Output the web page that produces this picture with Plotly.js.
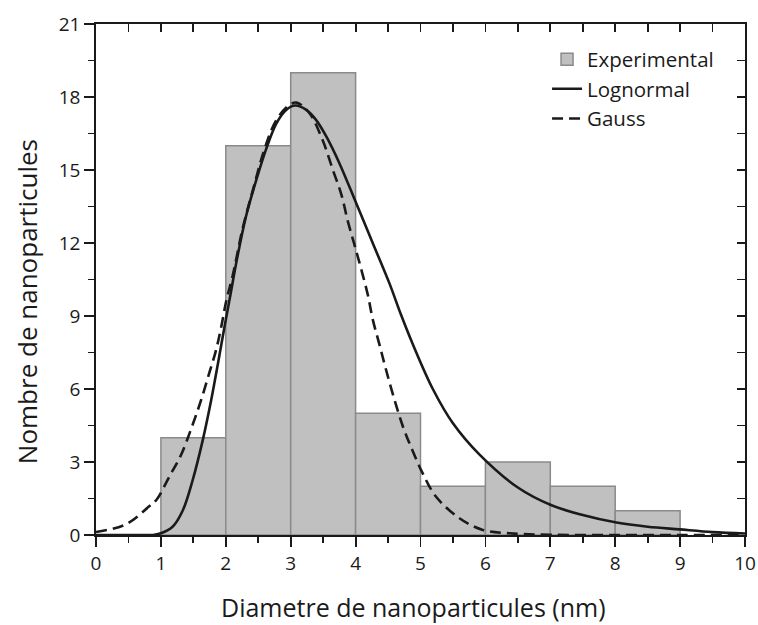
<!DOCTYPE html>
<html><head><meta charset="utf-8">
<script src="https://cdn.plot.ly/plotly-3.0.1.min.js"></script>
<style>html,body{margin:0;padding:0;background:#fff}</style>
</head><body><div id="chart" style="width:758px;height:625px"></div>
<script>
// Histogram (experimental)
const binCenters = [1.5, 2.5, 3.5, 4.5, 5.5, 6.5, 7.5, 8.5];
const counts = [4, 16, 19, 5, 2, 3, 2, 1];

// Lognormal fit
const lognX = [0, 0.6, 0.9, 1.0, 1.18, 1.34, 1.49, 1.645, 1.775, 1.88, 1.98, 2.07, 2.16, 2.31, 2.47, 2.62, 2.78, 2.93, 3.07, 3.24, 3.39, 3.55, 3.75, 4.01, 4.265, 4.52, 4.70, 4.88, 5.19, 5.50, 5.91, 6.50, 7.01, 7.50, 8.02, 8.50, 8.99, 9.50, 10];
const lognY = [0, 0, 0.01, 0.07, 0.34, 1.03, 2.26, 3.90, 5.55, 7.06, 8.56, 9.85, 11.17, 13.08, 14.59, 15.85, 16.92, 17.47, 17.65, 17.47, 17.06, 16.37, 15.28, 13.63, 11.99, 10.35, 9.05, 7.85, 6.0, 4.59, 3.3, 1.95, 1.23, 0.82, 0.51, 0.34, 0.23, 0.12, 0.06];

// Gauss fit
const gaussX = [0, 0.47, 0.82, 0.93, 1.13, 1.31, 1.47, 1.62, 1.75, 1.85, 1.93, 2.01, 2.11, 2.26, 2.42, 2.60, 2.78, 2.98, 3.09, 3.29, 3.49, 3.65, 3.78, 3.88, 3.98, 4.09, 4.19, 4.265, 4.37, 4.47, 4.60, 4.73, 4.88, 5.04, 5.24, 5.60, 5.96, 6.37, 7, 8, 9, 10];
const gaussY = [0.12, 0.45, 1.18, 1.44, 2.40, 3.29, 4.39, 5.55, 6.7, 7.6, 8.56, 9.66, 10.7, 12.6, 14.2, 15.89, 17.06, 17.67, 17.77, 17.33, 16.24, 15.0, 14.0, 12.9, 11.95, 10.89, 9.85, 8.85, 7.8, 6.78, 5.55, 4.45, 3.45, 2.5, 1.57, 0.69, 0.21, 0.07, 0.01, 0, 0, 0];

const xTicks = [0,1,2,3,4,5,6,7,8,9,10];
const yTicks = [0,3,6,9,12,15,18,21];
const seriesNames = ['Experimental', 'Lognormal', 'Gauss'];
const xTitle = 'Diametre de nanoparticules (nm)';
const yTitle = 'Nombre de nanoparticules';

const FONT = '"Open Sans", "Noto Sans", sans-serif';
const INK = '#1a1a1a';

const traces = [
  {type:'bar', x:binCenters, y:counts, width:1, name:seriesNames[0],
   marker:{color:'#c0c0c0', line:{color:'#8a8a8a', width:1.5}}},
  {type:'scatter', mode:'lines', x:lognX, y:lognY, name:seriesNames[1],
   line:{color:INK, width:2.6, shape:'spline', smoothing:1}},
  {type:'scatter', mode:'lines', x:gaussX, y:gaussY, name:seriesNames[2],
   xaxis:'x2', yaxis:'y2',
   line:{color:INK, width:2.6, dash:'11px,6px', shape:'spline', smoothing:1}}
];

const axCommon = {
  showgrid:false, zeroline:false, showline:true, linecolor:INK, linewidth:1.8
};

const layout = {
  width:758, height:625,
  margin:{l:96, r:13, t:24, b:90},
  paper_bgcolor:'#fff', plot_bgcolor:'#fff',
  font:{family:FONT, color:INK, size:19},
  bargap:0, showlegend:true,
  legend:{x:0.695, y:0.97, xanchor:'left', yanchor:'top', bgcolor:'rgba(0,0,0,0)',
          font:{family:FONT, size:20.5, color:INK}, tracegroupgap:0},
  xaxis: Object.assign({}, axCommon, {
    range:[0,10], tickvals:xTicks, ticktext:xTicks.map(String),
    ticks:'outside', ticklen:10, tickwidth:1.8, tickcolor:INK,
    minor:{dtick:0.5, ticks:'outside', ticklen:6, tickwidth:1.8, tickcolor:INK},
    tickfont:{size:19}
  }),
  yaxis: Object.assign({}, axCommon, {
    range:[0,21], tickvals:yTicks, ticktext:yTicks.map(String),
    ticks:'outside', ticklen:10, tickwidth:1.8, tickcolor:INK,
    minor:{dtick:1.5, ticks:'outside', ticklen:6, tickwidth:1.8, tickcolor:INK},
    tickfont:{size:19}
  }),
  xaxis2: Object.assign({}, axCommon, {
    overlaying:'x', side:'top', anchor:'y2', range:[0,10], tickvals:xTicks,
    showticklabels:false, ticks:'inside', ticklen:8, tickwidth:1.8, tickcolor:INK,
    minor:{dtick:0.5, ticks:'inside', ticklen:8, tickwidth:1.8, tickcolor:INK}
  }),
  yaxis2: Object.assign({}, axCommon, {
    overlaying:'y', side:'right', anchor:'x2', range:[0,21], tickvals:yTicks,
    showticklabels:false, ticks:'inside', ticklen:8, tickwidth:1.8, tickcolor:INK,
    minor:{dtick:1.5, ticks:'inside', ticklen:8, tickwidth:1.8, tickcolor:INK}
  }),
  annotations: [
    {text:xTitle, xref:'paper', yref:'paper', x:0.489, y:-0.141,
     xanchor:'center', yanchor:'middle', showarrow:false, font:{size:25, color:INK}},
    {text:yTitle, xref:'paper', yref:'paper', x:-0.106, y:0.456, textangle:-90,
     xanchor:'center', yanchor:'middle', showarrow:false, font:{size:26, color:INK}}
  ]
};

Plotly.newPlot('chart', traces, layout, {displayModeBar:false, staticPlot:true});
</script>
</body></html>
